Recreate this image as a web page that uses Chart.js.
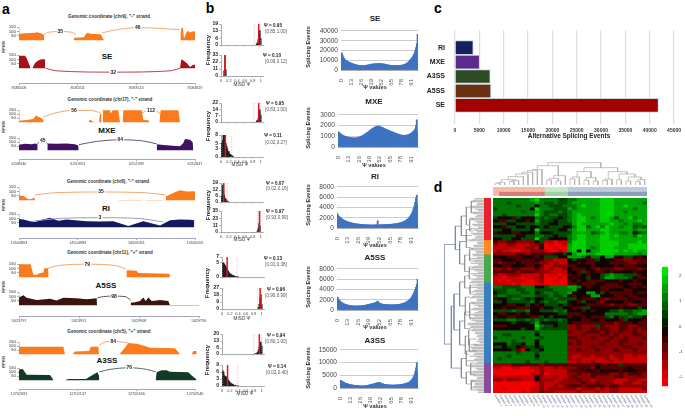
<!DOCTYPE html>
<html>
<head>
<meta charset="utf-8">
<title>Alternative splicing</title>
<script src="https://cdn.jsdelivr.net/npm/chart.js@4"></script>
<style>
  html, body { margin: 0; padding: 0; background: #fff; overflow: hidden; }
  body { position: relative; width: 685px; height: 416px; font-family: "Liberation Sans", sans-serif; }
  canvas { position: absolute; display: block; }
  .lbl { position: absolute; white-space: nowrap; line-height: 1; transform: translate(-50%, -50%); }
</style>
</head>
<body>
<script>
// Panel a, read-coverage tracks: [position, RPKM] runs, then junction arcs [count, points...]
const seOrange = [
  [[57,0],[57,75],[77,80],[107,85],[112,95],[115,85],[127,75],[132,60],[133,0]],
  [[220,0],[223,30],[252,35],[257,70],[264,90],[269,75],[302,70],[307,35],[312,0]],
  [[540,0],[542,90],[545,145],[549,140],[552,20],[559,90],[565,110],[569,90],[577,100],[585,105],[585,0]]
];
const seOrangeArcs = [
  ['35',[132,65],[145,92],[181,100],[215,92],[228,65]],
  ['46',[307,85],[340,115],[413,145],[490,135],[540,120]]
];
const seRed = [
  [[57,0],[57,145],[75,145],[80,115],[90,20],[92,0]],
  [[97,0],[105,60],[115,90],[125,105],[135,105],[136,0]],
  [[540,0],[544,105],[550,90],[560,60],[570,15],[575,30],[580,40],[585,40],[585,0]]
];
const seRedArcs = [['32',[137,0],[170,-30],[340,-45],[510,-30],[540,0]]];

const mxeOrange = [
  [[57,0],[57,20],[80,30],[100,40],[108,85],[115,70],[125,50],[130,30],[131,0]],
  [[265,0],[270,35],[275,20],[280,5],[297,0],[300,110],[304,105],[305,0]],
  [[308,0],[309,150],[330,150],[332,110],[338,150],[355,150],[358,60],[360,0]],
  [[368,0],[370,150],[425,150],[430,30],[445,25],[448,0]],
  [[478,0],[482,150],[535,150],[540,0]]
];
const mxeOrangeArcs = [
  ['56',[130,65],[165,115],[222,148],[270,148],[300,120]],
  ['112',[425,110],[435,135],[453,145],[470,135],[480,110]]
];
const mxePurple = [
  [[57,0],[57,70],[75,80],[95,75],[105,85],[113,75],[113,0]],
  [[142,0],[142,85],[170,80],[200,85],[225,75],[235,60],[236,0]],
  [[470,0],[470,75],[490,65],[510,60],[540,50],[550,90],[555,140],[570,130],[578,100],[580,0]]
];
const mxePurpleArcs = [
  ['45',[113,80],[118,110],[128,120],[137,110],[142,80]],
  ['64',[237,70],[290,110],[361,130],[430,115],[470,80]]
];

const riOrange = [
  [[57,0],[57,55],[70,50],[85,10],[95,15],[103,35],[105,0]],
  [[355,0],[356,4],[425,4],[425,0]],
  [[435,0],[436,4],[490,4],[490,0]],
  [[497,0],[497,40],[500,50],[530,100],[540,115],[560,100],[585,105],[585,0]]
];
const riOrangeArcs = [['35',[105,60],[170,88],[303,95],[430,88],[497,60]]];
const riNavy = [
  [[57,0],[57,95],[70,90],[90,70],[105,60],[125,85],[150,110],[175,75],[200,90],[225,80],[260,70],[300,65],[340,70],[385,15],[430,70],[480,20],[510,80],[540,90],[570,85],[583,80],[583,0]]
];
const riNavyArcs = [['3',[100,70],[170,100],[300,110],[420,100],[490,60]]];

const a5Orange = [
  [[57,0],[57,150],[92,150],[100,30],[110,30],[120,50],[130,55],[133,105],[145,105],[146,0]],
  [[378,0],[380,80],[410,75],[415,50],[508,40],[510,0]]
];
const a5OrangeArcs = [['79',[145,105],[175,135],[262,150],[345,135],[378,95]]];
const a5Brown = [
  [[57,0],[57,90],[70,115],[80,85],[110,60],[135,70],[150,75],[170,55],[190,85],[230,80],[260,70],[290,80],[291,0]],
  [[392,0],[392,30],[405,35],[420,50],[430,90],[437,50],[445,90],[455,50],[470,55],[480,60],[505,50],[510,0]],
  [[510,0],[510,3],[597,3],[597,0]]
];
const a5BrownArcs = [['98',[292,85],[310,100],[342,105],[375,100],[392,60]]];

const a3Orange = [
  [[57,0],[57,95],[190,95],[195,0]],
  [[218,0],[225,35],[268,40],[272,95],[295,95],[297,0]],
  [[358,0],[375,80],[385,140],[410,130],[430,110],[450,80],[525,75],[538,10],[540,0]],
  [[575,0],[580,40],[590,40],[590,0]]
];
const a3OrangeArcs = [['84',[297,110],[310,145],[340,160],[370,150],[385,140]]];
const a3Green = [
  [[57,0],[57,135],[68,140],[80,70],[150,65],[158,20],[160,0]],
  [[195,0],[205,15],[258,15],[275,60],[292,100],[297,60],[298,0]],
  [[467,0],[470,100],[485,125],[500,125],[510,105],[565,100],[575,60],[588,15],[590,0]]
];
const a3GreenArcs = [['76',[298,105],[330,135],[388,155],[440,135],[467,105]]];

const trackTicks = [50, 100, 150];
const seCoords = ['8580508', '8582011', '8583513', '8584819'];
const mxeCoords = ['6248340', '6250953', '6252338', '6252847'];
const riCoords = ['14504863', '14504983', '14505061', '14505205'];
const a5Coords = ['5623797', '5623951', '5629908', '5629796'];
const a3Coords = ['12702081', '12702137', '12702446', '12702546'];

// Panel b, MISO histograms: [psi bin, frequency]
const seHi = [[.9,1],[.92,2],[.94,5],[.96,9],[.98,13],[1,6]];
const seLo = [[.08,8],[.1,33],[.12,10]];
const mxeHi = [[.9,1],[.92,2],[.94,4],[.96,10],[.98,14],[1,8]];
const mxeLo = [[.02,5],[.04,6],[.06,8],[.08,8],[.1,5],[.12,5],[.14,4],[.16,3],[.18,2],[.2,2],[.22,1],[.24,1],[.26,.6],[.28,.4],[.3,.2]];
const riLow = [[.02,6],[.04,17],[.06,12],[.08,7],[.1,4],[.12,3],[.14,1],[.16,1],[.18,.5]];
const riHigh = [[.92,2],[.94,6],[.96,14],[.98,10]];
const a5Lo = [[.02,4.8],[.04,5],[.06,4.5],[.08,4],[.1,3.6],[.12,3],[.14,2.5],[.16,2],[.18,1.5],[.2,1.2],[.22,1],[.24,.8],[.26,.6],[.28,.5],[.3,.4],[.32,.3],[.36,.2],[.4,.1]];
const a5Hi = [[.92,2],[.94,6],[.96,14],[.98,18],[1,6]];
const a3Hi = [[.84,.5],[.88,1],[.9,2],[.92,4],[.94,7],[.96,10],[.98,12],[1,8]];
const a3Lo = [[.02,6.5],[.04,6],[.06,4.5],[.08,4],[.1,4],[.12,3.5],[.14,3],[.16,2.5],[.18,2],[.2,1.5],[.22,1.2],[.24,1],[.26,.8],[.28,.6],[.3,.4],[.34,.3],[.4,.1]];
const misoTicks = [0, .2, .4, .6, .8, 1];

// Panel b, events per psi bin (0.01 wide)
const psiTicks = [0, .13, .26, .39, .52, .65, .78, .91];
const psiSE = [8000,17500,15500,13500,12000,10800,10000,9500,9000,8600,8200,7800,7400,7100,6800,6500,6200,6000,5700,5500,5300,5100,4900,4800,4700,4600,4500,4500,4400,4500,4600,4700,4800,4900,5000,5200,5300,5500,5700,5900,6000,6100,6200,6300,6400,6400,6500,6500,6600,6600,6700,6500,6500,6400,6300,6200,6100,5900,5700,5500,5300,5100,5000,4900,4800,4700,4600,4500,4500,4400,4400,4500,4500,4500,4600,4600,4700,4800,4900,5000,5200,5400,5700,6000,6400,6900,7500,8200,9000,9900,10800,11800,13000,14200,15800,17500,20000,23000,27000,36500];
const psiMXE = [1450,1400,1320,1250,1200,1150,1100,1060,1030,1000,980,960,930,910,900,880,870,860,850,850,840,850,860,870,880,900,920,950,980,1010,1050,1090,1130,1180,1230,1290,1340,1390,1450,1500,1560,1620,1680,1730,1780,1830,1870,1900,1930,1950,1960,1950,1920,1890,1860,1830,1790,1760,1720,1690,1650,1620,1590,1550,1520,1490,1460,1430,1400,1380,1340,1310,1280,1250,1220,1200,1170,1150,1130,1110,1100,1090,1090,1100,1100,1110,1120,1140,1170,1200,1240,1290,1350,1420,1480,1560,1700,2000,2550,1450];
const psiRI = [2900,2600,2350,2200,2050,1950,1800,1700,1600,1500,1400,1350,1300,1230,1180,1120,1070,1020,980,950,910,880,850,820,800,780,760,740,720,700,690,680,660,650,640,630,620,610,600,600,590,590,580,580,590,600,600,590,600,610,1400,620,600,610,620,620,630,640,640,650,660,670,680,690,700,710,720,740,750,770,790,810,830,860,890,920,950,990,1030,1080,1130,1190,1260,1340,1430,1530,1650,1790,1950,2130,2350,2600,2900,3300,3800,4300,5000,5800,6400,4500];
const psiA5 = [2500,2450,2100,1900,1700,1550,1450,1350,1250,1180,1120,1060,1010,970,930,900,870,850,830,810,800,790,790,780,780,790,790,800,800,810,830,850,870,890,920,950,980,1010,1050,1090,1130,1170,1210,1250,1290,1330,1380,1430,1500,1620,1750,1500,1350,1280,1230,1180,1140,1110,1090,1070,1060,1050,1040,1030,1020,1010,1000,1000,1000,1010,1010,1020,1030,1040,1060,1080,1100,1130,1160,1200,1240,1290,1340,1400,1470,1550,1640,1750,1870,2000,2150,2350,2600,2900,3200,3600,4000,4400,5000,6000];
const psiA3 = [2000,3000,2800,2600,2400,2200,2050,1900,1800,1700,1600,1500,1420,1350,1280,1220,1170,1120,1080,1040,1000,970,940,910,880,860,840,820,800,810,830,860,900,950,1000,1060,1120,1190,1260,1340,1420,1500,1580,1660,1740,1820,1900,1980,2060,2140,2200,2100,1950,1800,1680,1580,1500,1430,1370,1320,1280,1250,1220,1200,1180,1170,1160,1150,1150,1160,1170,1180,1200,1220,1240,1270,1300,1340,1380,1430,1490,1550,1620,1700,1790,1890,2000,2130,2280,2480,2750,3050,3450,3900,4500,5300,6500,8000,10000,6500];

// Panel c
const eventTypes = ['RI', 'MXE', 'A3SS', 'A5SS', 'SE'];
const eventCounts = [3750, 5050, 7240, 7380, 41800];
const eventColors = ['#14225c', '#5a2a8c', '#2c4a24', '#6a3010', '#a30000'];

// Panel d, one string per gene, one digit per sample (0 red, 4 black, 8 green)
const heatRows = [
  "66666666786 66655 66777778887777777",
  "66656666676 55655 67777778887777776",
  "66666566646 65556 66787778887787777",
  "56666666486 66555 76777778887777677",
  "66666656676 55565 67777778887767777",
  "66566666686 56655 67877778887777777",
  "54443544465 65545 67887678875778677",
  "43355443475 55455 67887778877677787",
  "55544555565 54455 57877777787767667",
  "44355445445 45554 46885786877677565",
  "55445555485 55544 67887778877777677",
  "34443344464 44555 57777567877667456",
  "55555445566 55455 67887778878777687",
  "44554455585 54444 67887778877777777",
  "32233222245 11011 68887778888777787",
  "21122111223 01001 78887778888778888",
  "11211112214 00100 78887678887778888",
  "12110011222 10010 78484778888787877",
  "22222332333 33445 47887788887777767",
  "44433344434 55544 77764664774455434",
  "33444333343 22111 45443354443322333",
  "32333433332 21211 44343344433332233",
  "44334443343 11222 33444344443433344",
  "22323322232 12112 43334323332233323",
  "33333233322 21111 44353433434444344",
  "21122211112 01101 34343445676655534",
  "11011101112 00010 43445445776665433",
  "10101110012 00100 34343333444344344",
  "11110100011 00000 33433344333443334",
  "66555566644 56666 77643443333344343",
  "55566556655 55666 67444443344433444",
  "45566655645 66566 74447745433333433",
  "56655566655 56556 43444774443343344",
  "34456654544 55655 55433343233334333",
  "55455555645 65566 44354432444433443",
  "44433445434 55545 34443333323332233",
  "44344333443 44554 43355444444344454",
  "55556556445 55656 44434344455655667",
  "43344343444 44455 33344444666665677",
  "34433444335 45444 34434333564556554",
  "55566556565 65565 44433443444354443",
  "44445444574 44455 43333333332333433",
  "33344444486 55455 22322253222332233",
  "44444454475 55555 22322323322332323",
  "66666666656 66666 32223332322322322",
  "66556666646 66666 22232223323222332",
  "56666656665 66666 33222322232232223",
  "66665666646 66666 22322222322332222",
  "44465546646 66666 32322223222322232",
  "55455435545 66666 22222322222233222",
  "44445314554 66666 22322232223222322",
  "66666566656 66666 22222222222222222",
  "66656666646 66666 21122122212211211",
  "65666666656 66666 21211111211211111",
  "66666665666 56666 11211211121111111",
  "22223333332 33333 33333343333533333",
  "11001100112 11212 22333243333334333",
  "00000000012 11111 33334434444344433",
  "00000000112 01111 22322333322323332",
  "11111111142 11211 23222322223322232",
  "22122211142 22112 22322122221112211",
  "00000000012 11122 22232232221122112",
  "00000000012 11212 33323333233222222",
  "00100000112 12222 22122212122111112",
  "00000010113 22111 11211121122111111"
].map(r => r.replace(/ /g, ''));
const heatColors = ['#f00000', '#c40000', '#8c0000', '#520000', '#120400', '#004a00', '#007400', '#00a400', '#00d000'];
const sampleNames = Array.from(heatRows[0], (_, i) => 'Sample ' + (i + 1));

// row groups in rows, sample groups in samples
const rowGroups = [13.9, 4.8, 9.4, 26.7, 10.2];
const rowGroupColors = ['#e8212a', '#ff8a1e', '#4aa84f', '#3a7fc0', '#8e4a9a'];
const sampleRow1 = [11, 5, 17];
const sampleRow2 = [1.2, 9.8, 5, 17];

// colour key edges, top down, and the tick values
const keyEdges = [2.36,2.02,1.68,1.34,1,.67,.34,0,-.34,-.67,-1,-1.34,-1.68,-2.02,-2.36];
const keyColors = ['#00e800','#00c400','#00a000','#008000','#006000','#004000','#002000','#200000','#400000','#680000','#900000','#b40000','#d80000','#f40000'];
const keyTicks = [-2, -1, 0, 1, 2];

// dendrograms: [a, heightA, b, heightB, joinHeight]
const colTree = [
  [.5,0,1.5,0,5],[1,5,2.5,0,8],[3.5,0,4.5,0,10],[4,10,5.5,0,13],[1.75,8,4.75,13,16],
  [3.25,16,6.5,0,25],[4.9,25,7.5,0,33],[6.2,33,8.5,0,38],[7.35,38,9.5,0,43],[8.4,43,10.5,0,46],
  [11.5,0,12.5,0,15],[13.5,0,14.5,0,12],[12,15,14,12,20],[13,20,15.5,0,28],[9.5,46,14,28,58],
  [16.5,0,17.5,0,18],[17,18,18.5,0,24],[19.5,0,20.5,0,14],[21.5,0,22.5,0,12],[20,14,22,12,22],[18,24,21,22,40],
  [23.5,0,24.5,0,14],[24,14,25.5,0,18],[26.5,0,27.5,0,16],[28.5,0,29.5,0,12],[30.5,0,31.5,0,10],[31,10,32.5,0,16],
  [29,12,31.75,16,24],[27,16,30.4,24,33],[24.7,18,28.7,33,40],[19.5,40,26.7,40,52],[11.7,58,23.1,52,67]
];
const rowTreeDark = [
  [15.5,92,48.7,80,58],[9.4,110,17.2,105,92],[36,88,56.7,110,80],
  [32,105,44,105,88],[6,125,12.5,125,110],[14.5,125,22,120,105],
  [28,120,36,122,105],[41,120,49,122,105],[53.5,125,60,125,110]
];
const rowTreeGrey = [
  [3,140,9,135,125],[10.5,140,14,138,125],[12.5,142,16.5,138,125],[19,135,24.5,134,120],
  [26,135,30,138,120],[33,136,39,135,122],[38,138,43.5,136,120],[46,132,52,134,122],
  [51,140,56,138,125],[58,138,62,140,125],[1,150,5,152,140],[7,148,11,146,135],
  [17,148,21,150,135],[23,150,27,148,134],[29,152,32,150,136],[35,150,40,152,135],
  [44,150,49,160,132],[47,156,51,155,134],[55,150,59,152,138],[61,150,64,155,140]
];
const rowLeaves = [150,142,155,138,160,148,152,140,158,146,136,156,144,150,135,158,148,140,155,145,132,150,160,142,150,138,156,146,134,152,158,140,148,136,155,143,160,138,150,146,133,152,128,135,142,150,156,160,165,150,140,132,146,155,128,150,140,158,135,148,155,142,150,138,158];
const rowLeavesBetween = [146,158,140,152,144,156,136,150,142,160,148,138,154,140,158,146,136,152,142,156,148,138,150,134,160,144,152,140,156,136,148,154,142,158,138,150,144,160,136,152,140,130,138,146,152,158,162,155,145,136,142,150,134,148,156,138,152,144,140,158,136,150,146,154,160];

const FONT = '"Liberation Sans", sans-serif';

function addLabel(str, x, y, size, opt = {}) {
  const d = document.createElement('div');
  d.className = 'lbl';
  d.textContent = str;
  d.style.left = x + 'px';
  d.style.top = y + 'px';
  d.style.fontSize = size + 'px';
  d.style.color = opt.color || '#222';
  if (opt.bold) d.style.fontWeight = 'bold';
  if (opt.rotate) d.style.transform = 'translate(-50%, -50%) rotate(' + opt.rotate + 'deg)';
  document.body.appendChild(d);
}

function addChart(x, y, w, h, cfg) {
  const c = document.createElement('canvas');
  c.width = w;
  c.height = h;
  c.style.left = x + 'px';
  c.style.top = y + 'px';
  c.style.width = w + 'px';
  c.style.height = h + 'px';
  document.body.appendChild(c);
  cfg.options = cfg.options || {};
  cfg.options.responsive = false;
  cfg.options.animation = false;
  cfg.options.devicePixelRatio = 1;
  cfg.options.plugins = Object.assign({ legend: { display: false }, tooltip: { enabled: false } }, cfg.options.plugins);
  return new Chart(c, cfg);
}

function toXY(pairs) {
  return pairs.map(p => ({ x: p[0], y: p[1] }));
}

// Panel a: one coverage track
function track(y150, y0, segs, arcs, color, arcColor) {
  const k = (y0 - y150) / 150;
  const padTop = 6, padBottom = 8;
  const datasets = [];
  arcs.forEach(a => datasets.push({
    data: toXY(a.slice(1)), borderColor: arcColor, borderWidth: 1, pointRadius: 0, fill: false, cubicInterpolationMode: 'monotone'
  }));
  segs.forEach(s => datasets.push({
    data: toXY(s), backgroundColor: color, borderColor: color, borderWidth: 0, pointRadius: 0, fill: 'origin', tension: 0
  }));
  datasets.push({ data: [{ x: 57, y: 0 }, { x: 57, y: 150 }], borderColor: '#777', borderWidth: .7, pointRadius: 0, fill: false });
  const arcNumbers = {
    id: 'arcNumbers',
    afterDatasetsDraw(chart) {
      const ctx = chart.ctx;
      ctx.save();
      ctx.font = 'bold 5px ' + FONT;
      ctx.textAlign = 'center';
      ctx.textBaseline = 'middle';
      arcs.forEach(a => {
        const pts = a.slice(1);
        const mid = pts[Math.floor(pts.length / 2)];
        const px = chart.scales.x.getPixelForValue(mid[0]);
        const py = chart.scales.y.getPixelForValue(mid[1]);
        const tw = ctx.measureText(a[0]).width + 2;
        ctx.fillStyle = '#fff';
        ctx.fillRect(px - tw / 2, py - 3, tw, 6);
        ctx.fillStyle = '#222';
        ctx.fillText(a[0], px, py);
      });
      ctx.restore();
    }
  };
  addChart(4, y150 - padTop, 196, y0 - y150 + padTop + padBottom, {
    type: 'line',
    data: { datasets },
    plugins: [arcNumbers],
    options: {
      scales: {
        x: { type: 'linear', min: 57, max: 600, display: false },
        y: {
          min: -padBottom / k, max: 150 + padTop / k,
          afterFit: s => { s.width = 15; },
          afterBuildTicks: s => { s.ticks = trackTicks.map(v => ({ value: v })); },
          border: { display: false },
          grid: { drawOnChartArea: false, tickLength: 2, color: '#777', lineWidth: .6 },
          ticks: { autoSkip: false, font: { size: 4.4, family: FONT }, color: '#333', padding: 1 }
        }
      }
    }
  });
}

// Panel a: genomic coordinate axis
function coordAxis(y, coords, width) {
  addChart(9, y - 1, width + 20, 11, {
    type: 'line',
    data: { labels: coords, datasets: [] },
    options: {
      layout: { padding: { left: 10, right: 10 } },
      scales: {
        x: {
          afterFit: s => { s.height = 10; },
          border: { color: '#8a8fb0', width: .8 },
          grid: { drawOnChartArea: false, tickLength: 2, color: '#777', lineWidth: .6 },
          ticks: { font: { size: 3.8, family: FONT }, color: '#444', padding: 1, maxRotation: 0, autoSkip: false }
        },
        y: { display: false }
      }
    }
  });
}

// Panel b: MISO histogram
function misoHist(left, yTop, yBottom, bins, yTicks, psi, lo, hi, showX) {
  const yMax = yTicks[yTicks.length - 1];
  const vline = (v, color, width, dash) => ({
    type: 'line', data: [{ x: v, y: 0 }, { x: v, y: yMax }], borderColor: color, borderWidth: width, borderDash: dash, pointRadius: 0, fill: false
  });
  const bottomH = showX ? 10 : 3;
  addChart(left - 14, yTop - 3, 58, yBottom - yTop + 3 + bottomH, {
    type: 'bar',
    data: {
      datasets: [
        vline(psi, '#e8121c', 1.5, []),
        vline(lo, '#aaa', .6, [1, 1]),
        vline(hi, '#aaa', .6, [1, 1]),
        { data: toXY(bins), backgroundColor: '#222', barThickness: 1 }
      ]
    },
    options: {
      layout: { padding: { top: 3, right: 2 } },
      scales: {
        x: {
          type: 'linear', min: 0, max: 1.058, offset: false,
          afterFit: s => { s.height = bottomH; },
          afterBuildTicks: s => { s.ticks = misoTicks.map(v => ({ value: v })); },
          border: { color: '#888', width: .7 },
          grid: { drawOnChartArea: false, tickLength: 1.5, offset: false, color: '#888', lineWidth: .6 },
          ticks: { display: showX, autoSkip: false, font: { size: 3.8, family: FONT }, color: '#444', padding: 1, maxRotation: 0, callback: v => String(v) }
        },
        y: {
          min: 0, max: yMax,
          afterFit: s => { s.width = 14; },
          afterBuildTicks: s => { s.ticks = yTicks.map(v => ({ value: v })); },
          border: { color: '#888', width: .7 },
          grid: { drawOnChartArea: false, tickLength: 2, color: '#888', lineWidth: .6 },
          ticks: { autoSkip: false, font: { size: 5, weight: 'bold', family: FONT }, color: '#222', padding: 1, callback: v => String(v) }
        }
      }
    }
  });
}

// Panel b: psi distribution
function psiHist(left, right, yTop, yBottom, values, yMax, step) {
  addChart(left - 30, yTop - 4, right - left + 32, yBottom - yTop + 4 + 16, {
    type: 'bar',
    data: { datasets: [{ data: values.map((v, i) => ({ x: i / 100, y: v })), backgroundColor: '#3f73c2', barThickness: 1.2 }] },
    options: {
      layout: { padding: { top: 4, right: 2 } },
      scales: {
        x: {
          type: 'linear', min: 0, max: .995, offset: false,
          afterFit: s => { s.height = 16; },
          afterBuildTicks: s => { s.ticks = psiTicks.map(v => ({ value: v })); },
          border: { color: '#999', width: .6 },
          grid: { display: false },
          ticks: { autoSkip: false, font: { size: 6, family: FONT }, color: '#555', padding: 1, minRotation: 90, maxRotation: 90, callback: v => String(v) }
        },
        y: {
          min: 0, max: yMax,
          afterFit: s => { s.width = 30; },
          border: { display: false },
          grid: { color: '#ccc', lineWidth: 1, drawTicks: false },
          ticks: { stepSize: step, autoSkip: false, font: { size: 6.6, family: FONT }, color: '#444', padding: 3, callback: v => String(v) }
        }
      }
    }
  });
}

// ---- panel letters
addLabel('a', 6, 9, 14, { bold: true, color: '#000' });
addLabel('b', 210, 8, 14, { bold: true, color: '#000' });
addLabel('c', 438, 8, 14, { bold: true, color: '#000' });
addLabel('d', 438, 187, 14, { bold: true, color: '#000' });

// ---- panel a
[['Genomic coordinate (chr9), "-" strand', 109, 17],
 ['Genomic coordinate (chr17), "-" strand', 110, 100],
 ['Genomic coordinate (chr8), "-" strand', 108, 182],
 ['Genomic coordinate (chr11), "+" strand', 110, 253],
 ['Genomic coordinate (chr5), "+" strand', 109, 332]].forEach(t => addLabel(t[0], t[1], t[2], 4.6, { bold: true, color: '#333' }));
[['SE', 107, 57], ['MXE', 107, 131], ['RI', 106, 209], ['A5SS', 106, 286], ['A3SS', 107, 361]].forEach(t => addLabel(t[0], t[1], t[2], 8, { bold: true, color: '#111' }));
[47, 127, 205, 287, 362].forEach(y => addLabel('RPKM', 3.5, y, 4, { bold: true, rotate: -90, color: '#333' }));

track(25, 42, seOrange, seOrangeArcs, '#fb7a1c', '#f6a56e');
track(53, 70, seRed, seRedArcs, '#a8101c', '#b8404a');
coordAxis(83, seCoords, 176);
track(108, 124, mxeOrange, mxeOrangeArcs, '#fb7a1c', '#f6a56e');
track(136, 152, mxePurple, mxePurpleArcs, '#3f1160', '#6a5084');
coordAxis(159, mxeCoords, 176);
track(185, 202, riOrange, riOrangeArcs, '#fb7a1c', '#f6a56e');
track(212, 229, riNavy, riNavyArcs, '#14185c', '#9a9cc0');
coordAxis(238, riCoords, 176);
track(262, 279, a5Orange, a5OrangeArcs, '#fb7a1c', '#f6a56e');
track(290, 307, a5Brown, a5BrownArcs, '#3a1510', '#6a5048');
coordAxis(316, a5Coords, 180);
track(340, 356, a3Orange, a3OrangeArcs, '#fb7a1c', '#f6a56e');
track(366, 382, a3Green, a3GreenArcs, '#123a26', '#50705e');
coordAxis(389, a3Coords, 176);

// ---- panel b, histograms
misoHist(221, 23, 46, seHi, [0, 6, 13, 19], .95, .85, 1, false);
misoHist(221, 54, 76, seLo, [0, 11, 22, 33], .1, .09, .12, true);
misoHist(221, 102, 123, mxeHi, [0, 7, 14, 22], .95, .83, 1, false);
misoHist(221, 134, 157, mxeLo, [0, 3, 5, 8], .11, .02, .27, true);
misoHist(221, 182, 203, riLow, [0, 6, 12, 19], .07, .02, .16, false);
misoHist(221, 210, 232, riHigh, [0, 11, 23, 35], .97, .93, .99, true);
misoHist(222, 256, 278, a5Lo, [0, 5, 7], .13, .01, .38, false);
misoHist(222, 287, 309, a5Hi, [0, 9, 18, 27], .96, .9, .99, true);
misoHist(222, 333, 355, a3Hi, [0, 6, 13, 20], .94, .8, 1, false);
misoHist(222, 364, 386, a3Lo, [0, 3, 6, 9], .14, .02, .4, true);

[[50, 208], [126, 208], [205, 208], [283, 207], [360, 207]].forEach(p => addLabel('Frequency', p[1], p[0], 6, { bold: true, rotate: -90 }));
[[242, 85], [240, 165], [242, 240], [242, 319], [245, 394]].forEach(p => addLabel('MISO Ψ', p[0], p[1], 4.6, { color: '#333' }));
[['Ψ = 0.95', 273, 26, '[0.85,1.00]', 276, 32],
 ['Ψ = 0.10', 272, 56, '[0.09,0.12]', 276, 62],
 ['Ψ = 0.95', 275, 104, '[0.83,1.00]', 276, 110],
 ['Ψ = 0.11', 273, 136, '[0.02,0.27]', 276, 143],
 ['Ψ = 0.07', 275, 184, '[0.02,0.16]', 277, 189],
 ['Ψ = 0.97', 275, 212, '[0.93,0.99]', 277, 218],
 ['Ψ = 0.13', 273, 259, '[0.01,0.38]', 276, 265],
 ['Ψ = 0.96', 276, 290, '[0.90,0.99]', 276, 296],
 ['Ψ = 0.94', 276, 336, '[0.80,1.00]', 276, 342],
 ['Ψ = 0.14', 277, 367, '[0.02,0.40]', 277, 373]].forEach(t => {
  addLabel(t[0], t[1], t[2], 4.6, { bold: true, color: '#222' });
  addLabel(t[3], t[4], t[5], 4.6, { color: '#555' });
});

// ---- panel b, psi distributions
psiHist(341, 418, 28, 70, psiSE, 40000, 10000);
psiHist(338, 418, 112, 147, psiMXE, 3000, 1000);
psiHist(337, 418, 184, 228, psiRI, 8000, 2000);
psiHist(337, 418, 266, 310, psiA5, 8000, 2000);
psiHist(340, 418, 347, 388, psiA3, 15000, 5000);
[['SE', 375, 19], ['MXE', 374, 102], ['RI', 375, 177], ['A5SS', 375, 258], ['A3SS', 375, 341]].forEach(t => addLabel(t[0], t[1], t[2], 8, { bold: true, color: '#222' }));
[[375, 88], [374, 166], [375, 246], [375, 328], [375, 407]].forEach(p => addLabel('Ψ values', p[0], p[1], 5.6, { bold: true, color: '#333' }));
[[47], [128], [205], [287], [368]].forEach(p => addLabel('Splicing Events', 309, p[0], 5.6, { bold: true, rotate: -90, color: '#333' }));

// ---- panel c
addChart(425, 24, 260, 115, {
  type: 'bar',
  data: {
    datasets: [{
      data: eventCounts.map((v, i) => ({ x: v, y: i + 1 })),
      backgroundColor: eventColors,
      borderColor: '#ccd6e4', borderWidth: 1, barThickness: 14
    }]
  },
  options: {
    indexAxis: 'y',
    layout: { padding: { top: 3, right: 10 } },
    scales: {
      x: {
        type: 'linear', min: 0, max: 45000,
        afterFit: s => { s.height = 17; },
        grid: { color: '#ddd', lineWidth: 1.2, tickLength: 2 },
        border: { display: false },
        ticks: { stepSize: 5000, maxRotation: 0, autoSkip: false, padding: 4, font: { size: 5, weight: 'bold', family: FONT }, color: '#333', callback: v => String(v) }
      },
      y: {
        type: 'linear', reverse: true, min: -.21, max: 6.15, offset: false,
        afterFit: s => { s.width = 30; },
        afterBuildTicks: s => { s.ticks = eventTypes.map((_, i) => ({ value: i + 1 })); },
        grid: { display: false },
        border: { display: false },
        ticks: { autoSkip: false, padding: 2, font: { size: 7, weight: 'bold', family: FONT }, color: '#222', callback: v => eventTypes[v - 1] }
      }
    }
  }
});
addLabel('Alternative Splicing Events', 569, 136, 6.4, { bold: true, color: '#222' });

// ---- panel d, heatmap
const sampleTextPlugin = {
  id: 'sampleText',
  afterDraw(chart) {
    const ctx = chart.ctx, xs = chart.scales.x;
    ctx.save();
    ctx.font = '3px ' + FONT;
    ctx.fillStyle = '#66708a';
    ctx.textBaseline = 'middle';
    sampleNames.forEach((name, i) => {
      ctx.save();
      ctx.translate(xs.getPixelForValue(i), chart.chartArea.bottom + 2);
      ctx.rotate(Math.PI / 3);
      ctx.fillText(name, 0, 0);
      ctx.restore();
    });
    ctx.restore();
  }
};
addChart(493, 198, 166, 218, {
  type: 'bar',
  data: {
    labels: sampleNames,
    datasets: heatRows.map(r => ({
      data: Array.from(r, () => 1),
      backgroundColor: Array.from(r, ch => heatColors[+ch]),
      barPercentage: 1, categoryPercentage: 1
    }))
  },
  plugins: [sampleTextPlugin],
  options: {
    layout: { padding: { right: 12, bottom: 23 } },
    scales: {
      x: { stacked: true, display: false },
      y: { stacked: true, display: false, reverse: true, min: 0, max: heatRows.length }
    }
  }
});

// row colour strip
addChart(484, 198, 7, 195, {
  type: 'bar',
  data: {
    labels: ['group'],
    datasets: rowGroups.map((v, i) => ({ data: [v], backgroundColor: rowGroupColors[i], barPercentage: 1, categoryPercentage: 1 }))
  },
  options: {
    scales: {
      x: { stacked: true, display: false },
      y: { stacked: true, display: false, reverse: true, min: 0, max: heatRows.length }
    }
  }
});

// sample colour strip
addChart(493, 187, 154, 9, {
  type: 'bar',
  data: {
    labels: ['a', 'b'],
    datasets: [0, 1, 2, 3].map(i => ({
      data: [i < 3 ? sampleRow1[i] : 0, sampleRow2[i]],
      backgroundColor: [['#f4bba6', '#c8e6c8', '#bccadb', '#fff'][i], ['#f4bba6', '#dc7c76', '#9dd3a2', '#8a9fb8'][i]],
      barPercentage: 1, categoryPercentage: 1
    }))
  },
  options: {
    indexAxis: 'y',
    scales: {
      x: { stacked: true, display: false, min: 0, max: 33 },
      y: { stacked: true, display: false }
    }
  }
});

// dendrograms
function treeColumn(m) {
  return [
    { x: m[0], y: m[1] }, { x: m[0], y: m[4] }, { x: m[2], y: m[4] }, { x: m[2], y: m[3] }, { x: NaN, y: NaN }
  ];
}
function treeRow(m) {
  return [
    { x: m[1], y: m[0] }, { x: m[4], y: m[0] }, { x: m[4], y: m[2] }, { x: m[3], y: m[2] }, { x: NaN, y: NaN }
  ];
}
addChart(493, 162, 154, 23, {
  type: 'scatter',
  data: { datasets: [{ data: colTree.flatMap(treeColumn), showLine: true, pointRadius: 0, borderColor: '#aaa', borderWidth: .7 }] },
  options: { scales: { x: { type: 'linear', display: false, min: 0, max: 33 }, y: { display: false, min: 0, max: 69 } } }
});
const leafLines = rowLeaves.flatMap((d, i) => [{ x: d, y: i + .25 }, { x: 178, y: i + .25 }, { x: NaN, y: NaN }])
  .concat(rowLeavesBetween.flatMap((d, i) => [{ x: d, y: i + .75 }, { x: 178, y: i + .75 }, { x: NaN, y: NaN }]));
addChart(444, 198, 40, 195, {
  type: 'scatter',
  data: {
    datasets: [
      { data: rowTreeDark.flatMap(treeRow), showLine: true, pointRadius: 0, borderColor: '#7080a0', borderWidth: .7 },
      { data: rowTreeGrey.flatMap(treeRow), showLine: true, pointRadius: 0, borderColor: '#888', borderWidth: .6 },
      { data: leafLines, showLine: true, pointRadius: 0, borderColor: '#999', borderWidth: .8 }
    ]
  },
  options: { scales: { x: { type: 'linear', display: false, min: 58, max: 178 }, y: { display: false, reverse: true, min: 0, max: heatRows.length } } }
});

// colour key
addChart(662, 261, 20, 131, {
  type: 'bar',
  data: {
    labels: ['z'],
    datasets: keyColors.map((c, i) => ({ data: [[keyEdges[i + 1], keyEdges[i]]], backgroundColor: c, barPercentage: 1, categoryPercentage: 1, grouped: false }))
  },
  options: {
    scales: {
      x: { display: false },
      y: {
        position: 'right', min: -2.36, max: 2.36,
        afterFit: s => { s.width = 14; },
        afterBuildTicks: s => { s.ticks = keyTicks.map(v => ({ value: v })); },
        border: { display: false },
        grid: { display: false },
        ticks: { autoSkip: false, font: { size: 4.4, family: FONT }, color: '#333', padding: 3, callback: v => String(v) }
      }
    }
  }
});
</script>
</body>
</html>
